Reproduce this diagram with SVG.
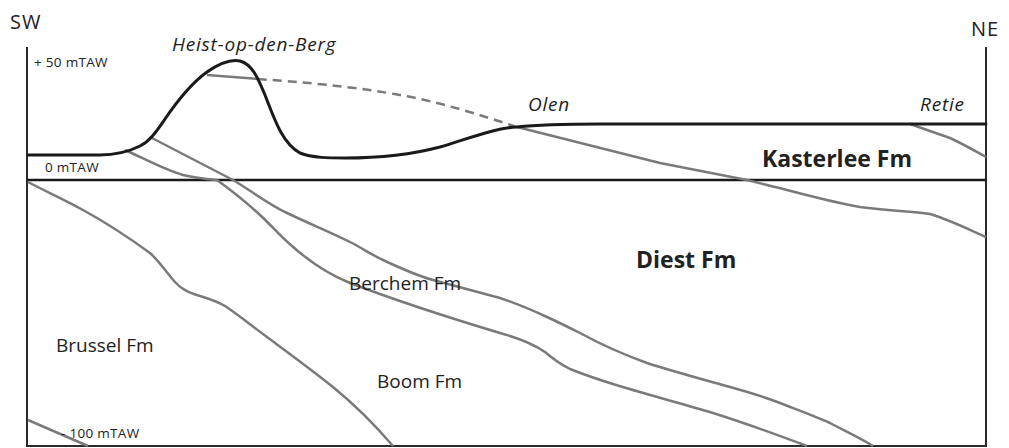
<svg xmlns="http://www.w3.org/2000/svg" width="1009" height="448" viewBox="0 0 1009 448">
  <style>
    .frame { fill: none; stroke: #2a2a2a; stroke-width: 2; }
    .surface { fill: none; stroke: #1a1a1a; stroke-width: 3; stroke-linejoin: round; stroke-linecap: round; }
    .base { fill: none; stroke: #1a1a1a; stroke-width: 2.5; }
    .contact { fill: none; stroke: #7a7a7a; stroke-width: 2.5; stroke-linejoin: round; }
    .dashed { stroke-dasharray: 9 6; }
    text { font-family: "Open Sans", "Liberation Sans", sans-serif; fill: #222; }
    .dir { font-size: 20px; letter-spacing: 1px; }
    .place { font-size: 19px; font-style: italic; letter-spacing: 0.8px; }
    .level { font-size: 13.5px; letter-spacing: 0.3px; }
    .fm { font-size: 19px; }
    .fmb { font-size: 23px; font-weight: bold; }
  </style>
  <rect width="1009" height="448" fill="#fff"/>

  <!-- section frame -->
  <g id="frame">
    <path class="frame" d="M27,47 V446 H986 V47"/>
    <line class="base" x1="27" y1="180" x2="986" y2="180"/>
  </g>

  <!-- formation contacts -->
  <g id="contacts">
    <!-- base of Kasterlee Fm (top Diest) -->
    <path class="contact" d="M207,75 L258,79"/>
    <path class="contact dashed" d="M258,79 C300,82 350,86 400,95 C440,102 480,115 517,127"/>
    <path class="contact" d="M517,127 L660,163 L747,180 L767,185 C800,193 830,202 860,207 C890,211 910,211 930,214 C950,220 970,230 986,237"/>
    <!-- Retie -->
    <path class="contact" d="M910,124 L950,138 C965,145 975,151 986,157"/>
    <!-- top Berchem Fm -->
    <path class="contact" d="M150,137 L233,180 C250,190 268,204 287,213 C310,224 330,232 350,242 C362,248 372,255 383,260 C400,268 415,275 433,280 C455,286 478,292 500,298 C515,303 532,310 547,317 C560,323 570,328 580,333 C600,344 625,355 647,363 C675,372 705,380 730,387 C748,392 765,397 780,403 C798,410 815,416 830,423 C845,431 860,438 873,446"/>
    <!-- top Boom Fm -->
    <path class="contact" d="M125,150 C145,159 165,170 183,175 C195,178 207,179 217,180 C228,188 245,201 260,215 C272,226 282,238 292,246 C310,262 330,275 350,283 C400,302 450,318 500,333 C518,338 535,345 545,352 C552,358 558,363 570,369 C585,375 600,380 613,384 C645,394 680,403 713,413 C745,423 775,434 807,446"/>
    <!-- top Brussel Fm -->
    <path class="contact" d="M28,182 C45,191 65,200 83,210 C105,222 128,237 150,253 C160,262 167,273 175,282 C182,290 190,293 200,296 C210,299 218,302 225,306 C240,316 252,326 267,337 C290,354 312,370 333,387 C355,405 375,425 393,446"/>
    <!-- deeper contact -->
    <path class="contact" d="M28,420 L88,446"/>
  </g>

  <!-- topographic surface -->
  <g id="surface">
    <path class="surface" d="M28,155 L100,155 C115,155 130,151 140,146 C150,141 156,132 165,119 C178,100 193,82 207,72 C220,63 230,59 240,61 C252,64 258,78 265,95 C274,118 282,143 300,153 C312,158 330,158 345,158 C380,158 410,155 440,147 C470,138 495,128 517,127 C535,125 560,124 600,124 L986,124"/>
  </g>

  <!-- orientation and elevation labels -->
  <g id="labels">
    <text class="dir" x="10" y="29">SW</text>
    <text class="dir" x="971" y="36">NE</text>
    <text class="level" x="34" y="67">+ 50 mTAW</text>
    <text class="level" x="45" y="172">0 mTAW</text>
    <text class="level" x="61" y="438">- 100 mTAW</text>
  </g>

  <!-- place names -->
  <g id="places">
    <text class="place" x="172" y="51">Heist-op-den-Berg</text>
    <text class="place" x="528" y="111">Olen</text>
    <text class="place" x="920" y="111">Retie</text>
  </g>

  <!-- formations -->
  <g id="formations">
    <text class="fmb" x="762" y="167">Kasterlee Fm</text>
    <text class="fmb" x="636" y="268">Diest Fm</text>
    <text class="fm" x="349" y="290">Berchem Fm</text>
    <text class="fm" x="56" y="352">Brussel Fm</text>
    <text class="fm" x="377" y="388">Boom Fm</text>
  </g>
</svg>
